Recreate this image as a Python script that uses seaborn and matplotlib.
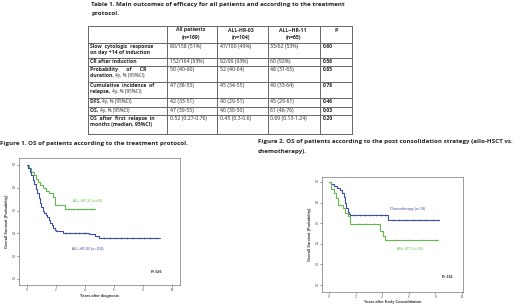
import numpy as np
import pandas as pd
import seaborn as sns
import matplotlib.pyplot as plt

# ---- table data ----
col_heads = [("All patients", "(n=169)"), ("ALL-HR-03", "(n=104)"), ("ALL--HR-11", "(n=65)"), ("P", "")]
row_labels = [
    [("Slow  cytologic  response", ""), ("on day +14 of induction", "")],
    [("CR after induction", "")],
    [("Probability      of      CR", ""), ("duration, ", "4y, % (95%CI)")],
    [("Cumulative  incidence  of", ""), ("relapse, ", "4y, % (95%CI)")],
    [("DFS, ", "4y, % (95%CI)")],
    [("OS, ", "4y, % (95%CI)")],
    [("OS  after  first  relapse  in", ""), ("months (median, 95%CI)", "")],
]
all_pts = ["80/158 (51%)", "152/164 (93%)", "50 (40-60)", "47 (38-55)", "42 (33-51)", "47 (39-55)", "0.52 (0.27-0.76)"]
hr03 = ["47/100 (49%)", "92/99 (93%)", "52 (40-64)", "45 (34-55)", "40 (29-51)", "40 (30-50)", "0.45 (0.3-0.6)"]
hr11 = ["33/62 (53%)", "60 (92%)", "48 (31-65)", "49 (33-64)", "45 (29-61)", "61 (46-76)", "0.69 (0.13-1.24)"]
pvals = ["0.60", "0.56", "0.85", "0.78", "0.46", "0.03", "0.20"]

# ---- survival curves ----
f1_hr11_t = [0, 0.15, 0.3, 0.45, 0.6, 0.75, 0.9, 1.1, 1.3, 1.5, 1.8, 1.95, 2.6, 4.7]
f1_hr11_s = [1.0, 0.97, 0.94, 0.91, 0.88, 0.85, 0.82, 0.80, 0.77, 0.75, 0.72, 0.65, 0.61, 0.61]
f1_hr11_cens = [2.9, 3.2, 3.5, 3.8, 4.1, 4.4, 4.6]
f1_hr03_t = [0, 0.1, 0.2, 0.3, 0.4, 0.5, 0.6, 0.7, 0.8, 0.9, 1.0, 1.1, 1.2, 1.3, 1.4, 1.5,
             1.6, 1.7, 1.8, 1.9, 2.0, 2.5, 4.3, 4.7, 5.0, 9.2]
f1_hr03_s = [1.0, 0.97, 0.94, 0.91, 0.87, 0.83, 0.79, 0.75, 0.71, 0.67, 0.63, 0.60, 0.58, 0.56,
             0.54, 0.52, 0.49, 0.47, 0.45, 0.43, 0.42, 0.405, 0.39, 0.375, 0.355, 0.355]
f1_hr03_cens = [2.7, 3.0, 3.3, 3.6, 3.9, 4.1, 5.3, 5.7, 6.1, 6.5, 6.9, 7.3, 7.7, 8.1, 8.5, 8.9]

f2_chemo_t = [0, 0.15, 0.35, 0.6, 0.85, 1.0, 1.1, 1.2, 1.3, 1.4, 1.5, 1.6, 4.45, 8.3]
f2_chemo_s = [1.0, 0.98, 0.96, 0.94, 0.92, 0.89, 0.85, 0.80, 0.75, 0.71, 0.69, 0.675, 0.63, 0.63]
f2_chemo_cens = [1.9, 2.3, 2.7, 3.1, 3.5, 3.9, 4.2, 4.8, 5.3, 5.8, 6.3, 6.8, 7.3, 7.8, 8.2]
f2_allo_t = [0, 0.15, 0.35, 0.55, 0.7, 1.05, 1.2, 1.45, 1.6, 3.85, 4.05, 4.2, 8.2]
f2_allo_s = [1.0, 0.93, 0.89, 0.84, 0.78, 0.75, 0.70, 0.67, 0.59, 0.52, 0.48, 0.44, 0.44]
f2_allo_cens = [2.2, 2.8, 3.4, 5.0, 6.0, 7.0, 8.0]

GREEN = "#66b84e"
BLUE = "#3d4ea6"

sns.set_theme(style="white")
plt.rcParams['font.family'] = ['Liberation Sans', 'DejaVu Sans']

fig = plt.figure(figsize=(5.2, 3.05), dpi=100)
bg = fig.add_axes([0, 0, 1, 1])
bg.set_xlim(0, 520)
bg.set_ylim(305, 0)
bg.axis('off')

TF = 'Open Sans'
TS = 4.5   # title size
CS = 3.7   # cell size
LS = 3.7   # row label size

# table title
bg.text(91, 4.5, "Table 1. Main outcomes of efficacy for all patients and according to the treatment",
        fontsize=TS, fontweight='bold', family=TF, va='center')
bg.text(91, 13, "protocol.", fontsize=TS, fontweight='bold', family=TF, va='center')

# table grid
xs = [88, 167, 217, 268, 320, 352]
ys = [26, 43, 58, 66, 82, 98, 107, 115, 134]
for y in ys:
    bg.plot([xs[0], xs[-1]], [y, y], color='#666666', lw=0.7)
for x in xs:
    bg.plot([x, x], [ys[0], ys[-1]], color='#666666', lw=0.7)

fig.canvas.draw()
rend = fig.canvas.get_renderer()
inv = bg.transData.inverted()

def mixed(x, y, bold, normal, size=LS):
    t = bg.text(x, y, bold, fontsize=size, fontweight='bold', family=TF, va='top')
    if normal:
        bb = t.get_window_extent(renderer=rend)
        x1 = inv.transform((bb.x1, bb.y0))[0]
        bg.text(x1, y, normal, fontsize=size - 0.3, family=TF, va='top')

head_x = [191, 241, 293, 336]
for hx, (a, b) in zip(head_x, col_heads):
    bg.text(hx, 27.5, a, fontsize=CS, fontweight='bold', family=TF, ha='center', va='top')
    if b:
        bg.text(hx, 34.5, b, fontsize=CS, fontweight='bold', family=TF, ha='center', va='top')

for i, lines in enumerate(row_labels):
    top = ys[i + 1] + 0.8
    for j, (b, n) in enumerate(lines):
        mixed(90, top + j * 6, b, n)
    bg.text(170.5, top, all_pts[i], fontsize=CS, family=TF, va='top')
    bg.text(220, top, hr03[i], fontsize=CS, family=TF, va='top')
    bg.text(270.5, top, hr11[i], fontsize=CS, family=TF, va='top')
    bg.text(323, top, pvals[i], fontsize=CS, fontweight='bold', family=TF, va='top')

# figure titles
bg.text(0, 144, "Figure 1. OS of patients according to the treatment protocol.",
        fontsize=TS, fontweight='bold', family=TF, va='center')
bg.text(258, 142, "Figure 2. OS of patients according to the post consolidation strategy (allo-HSCT vs.",
        fontsize=TS, fontweight='bold', family=TF, va='center')
bg.text(258, 151, "chemotherapy).", fontsize=TS, fontweight='bold', family=TF, va='center')


def km(ax, t, s, cens, color):
    df = pd.DataFrame({'t': t, 's': s})
    sns.lineplot(data=df, x='t', y='s', ax=ax, color=color, lw=0.8,
                 drawstyle='steps-post', estimator=None, sort=False)
    idx = np.searchsorted(np.array(t), np.array(cens), side='right') - 1
    cd = pd.DataFrame({'t': cens, 's': np.array(s)[idx]})
    sns.scatterplot(data=cd, x='t', y='s', ax=ax, marker='|', color=color,
                    s=4, linewidth=0.4)


def style(ax, xlabel, xlim, ylim):
    ax.set_xlim(*xlim)
    ax.set_ylim(*ylim)
    ax.set_xticks([0, 2, 4, 6, 8, 10])
    ax.set_yticks([0, 0.2, 0.4, 0.6, 0.8, 1.0])
    ax.set_yticklabels(['0.0', '0.2', '0.4', '0.6', '0.8', '1.0'])
    ax.tick_params(labelsize=2.2, length=1.5, width=0.4, pad=0.8, colors='#444444',
                   bottom=True, left=True)
    ax.set_xlabel(xlabel, fontsize=2.8, labelpad=1.5, fontweight='bold', color='#333333')
    ax.set_ylabel("Overall Survival (Probability)", fontsize=2.8, labelpad=2,
                  fontweight='bold', color='#333333')
    for sp in ax.spines.values():
        sp.set_linewidth(0.5)
        sp.set_color('#777777')


ax1 = fig.add_axes([19 / 520, 20 / 305, 161 / 520, 127 / 305])
km(ax1, f1_hr11_t, f1_hr11_s, f1_hr11_cens, GREEN)
km(ax1, f1_hr03_t, f1_hr03_s, f1_hr03_cens, BLUE)
style(ax1, "Years after diagnosis", (-0.55, 10.55), (-0.053, 1.061))
ax1.text(3.15, 0.685, "ALL-HR-11 (n=65)", fontsize=2.6, color=GREEN, va='center')
ax1.text(3.1, 0.265, "ALL-HR-03 (n=104)", fontsize=2.6, color=BLUE, va='center')
ax1.text(8.5, 0.065, "P=.026", fontsize=2.6, fontweight='bold', va='center')

ax2 = fig.add_axes([322 / 520, 13 / 305, 141 / 520, 115 / 305])
km(ax2, f2_chemo_t, f2_chemo_s, f2_chemo_cens, BLUE)
km(ax2, f2_allo_t, f2_allo_s, f2_allo_cens, GREEN)
style(ax2, "Years after Early Consolidation", (-0.53, 10.08), (-0.067, 1.048))
ax2.xaxis.labelpad = 0.8
ax2.text(4.6, 0.74, "Chemotherapy (n=74)", fontsize=2.6, color=BLUE, va='center')
ax2.text(5.1, 0.35, "Allo-SCT (n=35)", fontsize=2.6, color=GREEN, va='center')
ax2.text(8.45, 0.08, "P=.161", fontsize=2.6, fontweight='bold', va='center')

fig.savefig('out.png', dpi=100)
